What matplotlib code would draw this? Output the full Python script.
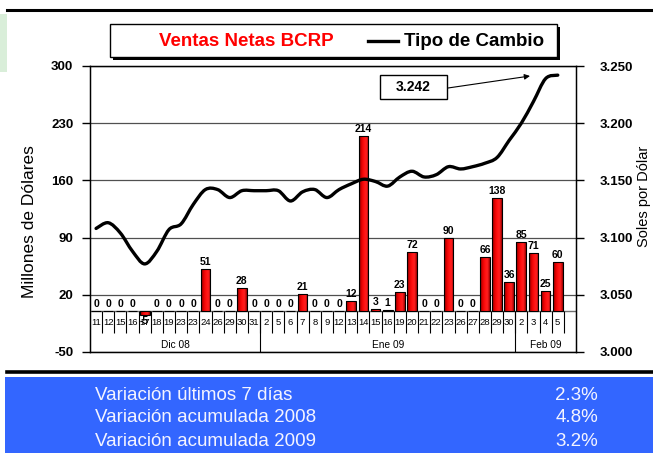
import matplotlib
matplotlib.use('Agg')
import matplotlib.pyplot as plt
import numpy as np
from matplotlib.patches import Rectangle, PathPatch
from matplotlib.path import Path
from matplotlib.lines import Line2D
from matplotlib.colors import LinearSegmentedColormap
from matplotlib.ticker import FuncFormatter

plt.rcParams['font.family'] = ['Liberation Sans', 'DejaVu Sans']
plt.rcParams['axes.unicode_minus'] = False

# --- datos ---
dias = ['11', '12', '15', '16', '17', '18', '19', '23', '23', '24', '26', '29', '30', '31',
        '2', '5', '6', '7', '8', '9', '12', '13', '14', '15', '16', '19', '20', '21', '22',
        '23', '26', '27', '28', '29', '30',
        '2', '3', '4', '5']
meses = ['Dic 08', 'Ene 09', 'Feb 09']
dias_por_mes = [14, 21, 4]

ventas = [0, 0, 0, 0, -5, 0, 0, 0, 0, 51, 0, 0, 28, 0,
          0, 0, 0, 21, 0, 0, 0, 12, 214, 3, 1, 23, 72, 0, 0,
          90, 0, 0, 66, 138, 36,
          85, 71, 25, 60]

tipo_cambio = [3.108, 3.113, 3.104, 3.088, 3.077, 3.088, 3.107, 3.112, 3.129, 3.142,
               3.142, 3.135, 3.141, 3.141, 3.141, 3.141, 3.132, 3.140, 3.142, 3.135,
               3.142, 3.147, 3.151, 3.149, 3.145, 3.153, 3.158, 3.153, 3.155, 3.162,
               3.160, 3.162, 3.165, 3.170, 3.185, 3.200, 3.219, 3.239, 3.242]

filas = ['Variación últimos 7 días', 'Variación acumulada 2008', 'Variación acumulada 2009']
variaciones = ['2.3%', '4.8%', '3.2%']

W, H = 653, 453


def fx(x):
    return x / W


def fy(y):
    return 1 - y / H


def curva_suave(xs, ys):
    # linea suavizada (tipo Excel) que pasa por los puntos dados
    pts = np.column_stack([xs, ys])
    n = len(pts)
    verts = [pts[0]]
    codes = [Path.MOVETO]
    for i in range(n - 1):
        p0 = pts[i - 1] if i > 0 else pts[i]
        p1, p2 = pts[i], pts[i + 1]
        p3 = pts[i + 2] if i + 2 < n else pts[i + 1]
        verts += [p1 + (p2 - p0) / 6, p2 - (p3 - p1) / 6, p2]
        codes += [Path.CURVE4] * 3
    return Path(verts, codes)


fig = plt.figure(figsize=(W / 100, H / 100), dpi=100)
ax = fig.add_axes([fx(90), fy(352), (576 - 90) / W, (352 - 66) / H])

x = np.arange(len(ventas))
n_slots = len(ventas) + 1

barra = LinearSegmentedColormap.from_list('barra', ['#7a0000', '#e00000', '#ff1010', '#ff2020', '#a00000'])
grad = np.linspace(0, 1, 64).reshape(1, -1)

bars = ax.bar(x, ventas, width=0.8, color='#e00000', linewidth=0, zorder=3)
for b in bars:
    x0, y0 = b.get_x(), b.get_y()
    w, h = b.get_width(), b.get_height()
    im = ax.imshow(grad, cmap=barra, extent=(x0, x0 + w, min(y0, y0 + h), max(y0, y0 + h)),
                   aspect='auto', zorder=3.1, interpolation='bilinear')
    im.set_clip_path(b)
ax.bar(x, ventas, width=0.8, fill=False, edgecolor='black', linewidth=0.8, zorder=3.2)
ax.set_xlim(-0.5, n_slots - 0.5)
ax.set_ylim(-50, 300)

for xi, v in zip(x, ventas):
    if v < 0:
        ax.annotate(str(v), (xi, v), xytext=(0, -0.5), textcoords='offset points',
                    ha='center', va='top', fontsize=7.5, fontweight='bold', zorder=4)
    else:
        ax.annotate(str(v), (xi, v), xytext=(0, 1.5), textcoords='offset points',
                    ha='center', va='bottom', fontsize=7.5, fontweight='bold', zorder=4)

# eje de categorias en y=0
ax.axhline(0, color='#707070', lw=1, zorder=2)
for i, d in enumerate(dias):
    ax.text(i, -14.5, d, ha='center', va='center', fontsize=6.8, zorder=3.5)
ax.vlines(np.arange(0.5, len(dias) + 0.5), -27, 0, color='black', lw=0.8, zorder=2)
limites = np.cumsum([0] + dias_por_mes) - 0.5
limites[-1] = n_slots - 0.5
ax.vlines(limites[1:-1], -50, 0, color='black', lw=0.8, zorder=2)
for m, a, b in zip(meses, limites[:-1], limites[1:]):
    ax.text((a + b) / 2, -41.5, m, ha='center', va='center', fontsize=7.3, zorder=4)

ax.set_xticks([])
ax.set_yticks([-50, 20, 90, 160, 230, 300])
ax.yaxis.grid(True, color='#505050', lw=0.9)
ax.set_axisbelow(True)
ax.tick_params(axis='y', direction='out', length=6, width=1, pad=6, labelsize=9.5)
for t in ax.get_yticklabels():
    t.set_fontweight('bold')
for s in ax.spines.values():
    s.set_color('black')
    s.set_linewidth(1)

ax2 = ax.twinx()
ax2.add_patch(PathPatch(curva_suave(x, tipo_cambio), fill=False, edgecolor='black', lw=2.4,
                        capstyle='round', joinstyle='round', zorder=5))
ax2.set_xlim(-0.5, n_slots - 0.5)
ax2.set_ylim(3.0, 3.25)
ax2.set_yticks(np.arange(3.0, 3.2501, 0.05))
ax2.yaxis.set_major_formatter(FuncFormatter(lambda v, _: '%.3f' % v))
ax2.tick_params(axis='y', direction='out', length=6, width=1, pad=11, labelsize=9.5)
for t in ax2.get_yticklabels():
    t.set_fontweight('bold')

fig.text(fx(30), fy(222), 'Millones de Dólares', rotation=90, ha='center', va='center', fontsize=12.5)
fig.text(fx(644), fy(196), 'Soles por Dólar', rotation=90, ha='center', va='center', fontsize=10.5)

# recuadro del ultimo valor
fig.add_artist(Rectangle((fx(380), fy(99)), (447 - 380) / W, 24 / H, transform=fig.transFigure,
                         facecolor='white', edgecolor='black', lw=1))
fig.text(fx(413.5), fy(87), '%.3f' % tipo_cambio[-1], ha='center', va='center', fontsize=10, fontweight='bold')
ax.annotate('', xy=(530, H - 76), xycoords='figure pixels', xytext=(448, H - 88), textcoords='figure pixels',
            arrowprops=dict(arrowstyle='-|>', lw=0.8, color='black', mutation_scale=8, shrinkA=0, shrinkB=0))

# leyenda
fig.add_artist(Rectangle((fx(113), fy(60)), 447 / W, 33 / H, transform=fig.transFigure,
                         facecolor='black', edgecolor='none'))
fig.add_artist(Rectangle((fx(110), fy(57)), 447 / W, 33 / H, transform=fig.transFigure,
                         facecolor='white', edgecolor='black', lw=1))
axl = fig.add_axes([fx(122), fy(46), 31 / W, 10 / H])
axl.imshow(grad, cmap=barra, aspect='auto', interpolation='bilinear')
axl.set_xticks([])
axl.set_yticks([])
fig.text(fx(159), fy(41), 'Ventas Netas BCRP', color='#ff0000', fontsize=13.5, fontweight='bold', va='center')
fig.add_artist(Line2D([fx(368), fx(398)], [fy(41), fy(41)], color='black', lw=2.4))
fig.text(fx(404), fy(41), 'Tipo de Cambio', color='black', fontsize=13.5, fontweight='bold', va='center')

# lineas y decoracion
fig.add_artist(Line2D([fx(7), 1], [fy(10), fy(10)], color='black', lw=2.2))
fig.add_artist(Line2D([fx(7), 1], [fy(372), fy(372)], color='black', lw=2.6))
fig.add_artist(Rectangle((0, fy(72)), fx(7), 58 / H, transform=fig.transFigure,
                         facecolor='#d9eed9', edgecolor='none'))

# recuadro inferior
fig.add_artist(Rectangle((fx(5), 0), 1 - fx(5), fy(377), transform=fig.transFigure,
                         facecolor='#3366ff', edgecolor='none'))
for k, (f, v) in enumerate(zip(filas, variaciones)):
    yy = fy(395 + 23 * k)
    fig.text(fx(95), yy, f, color='#f4f4ff', fontsize=13.5, va='center', ha='left')
    fig.text(fx(598), yy, v, color='#f4f4ff', fontsize=13.5, va='center', ha='right')

fig.savefig('out.png', dpi=100)
